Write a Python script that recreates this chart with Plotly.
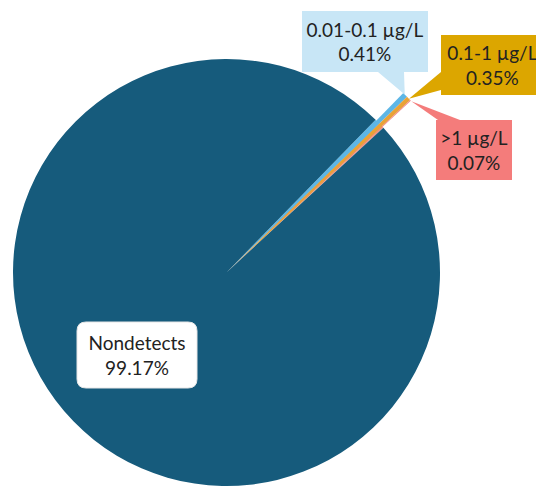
import math
import plotly.graph_objects as go

# Detection categories and their share of samples (%)
labels = ["0.01-0.1 µg/L", "0.1-1 µg/L", ">1 µg/L", "Nondetects"]
shares = [0.41, 0.35, 0.07, 99.17]
slice_colors = ["#5db6e6", "#e9a236", "#f28585", "#165b7c"]
box_colors = ["#c8e6f6", "#dca600", "#f47c7b", "#ffffff"]

W, H = 536, 486
FONT = dict(family="Lato, 'Noto Sans', sans-serif", size=19, color="#222222")

# pie geometry (pixels)
cx, cy, r = 226.5, 272.5, 213.5
reach = 1.18 * r          # how far the small slices stick out
shift = 45.0               # offset of the overlay pie along the small slices
rotation = 44.3            # start angle of the first slice, clockwise from 12 o'clock

def px(x):
    return x / W

def py(y):
    return 1 - y / H

total = sum(shares)
small_total = sum(shares[:3])

def mid_angle(i):
    start = rotation + 360.0 * sum(shares[:i]) / total
    return math.radians(start + 180.0 * shares[i] / total)

def polar_px(ox, oy, rad, ang):
    return ox + rad * math.sin(ang), oy - rad * math.cos(ang)

fig = go.Figure()

# main pie
fig.add_trace(go.Pie(
    labels=labels, values=shares, sort=False, direction="clockwise",
    rotation=rotation, textinfo="none", hoverinfo="skip",
    marker=dict(colors=slice_colors, line=dict(width=0)),
    domain=dict(x=[px(cx - r), px(cx + r)], y=[py(cy + r), py(cy - r)]),
    showlegend=False,
))

# overlay pie: only the small slices, extended beyond the main disc
phi = math.radians(rotation + 180.0 * small_total / total)
ox, oy = polar_px(cx, cy, shift, phi)
R = reach - shift
overlay_colors = slice_colors[:3] + ["rgba(0,0,0,0)"]
fig.add_trace(go.Pie(
    labels=labels, values=shares, sort=False, direction="clockwise",
    rotation=rotation, textinfo="none", hoverinfo="skip",
    marker=dict(colors=overlay_colors, line=dict(width=0)),
    domain=dict(x=[px(ox - R), px(ox + R)], y=[py(oy + R), py(oy - R)]),
    showlegend=False,
))

# label boxes: center x, center y, width, height (pixels)
boxes = [
    (365, 42, 126, 61),
    (492.5, 65, 103, 60),
    (474, 150, 76, 60),
    (137, 355, 120, 66),
]
# callout base points on each box edge (pixels)
bases = [
    [(378, 72), (404, 72)],
    [(441, 72), (441, 90)],
    [(438, 120), (460, 120)],
]

shapes = []
for i in range(3):
    tx, ty = polar_px(cx, cy, reach, mid_angle(i))
    (ax, ay), (bx, by) = bases[i]
    path = (f"M{px(ax)},{py(ay)} L{px(bx)},{py(by)} "
            f"L{px(tx)},{py(ty)} Z")
    shapes.append(dict(type="path", xref="paper", yref="paper", path=path,
                       fillcolor=box_colors[i], line=dict(width=0),
                       layer="above"))

# rounded white box behind the Nondetects label
bx, by, bw, bh = boxes[3]
x0, x1 = bx - bw / 2, bx + bw / 2
y0, y1 = by - bh / 2, by + bh / 2
k = 9
pts = [
    ("M", (x0 + k, y0)), ("L", (x1 - k, y0)), ("Q", (x1, y0), (x1, y0 + k)),
    ("L", (x1, y1 - k)), ("Q", (x1, y1), (x1 - k, y1)),
    ("L", (x0 + k, y1)), ("Q", (x0, y1), (x0, y1 - k)),
    ("L", (x0, y0 + k)), ("Q", (x0, y0), (x0 + k, y0)),
]
segs = []
for cmd, *ps in pts:
    segs.append(cmd + " ".join(f"{px(a)},{py(b)}" for a, b in ps))
shapes.append(dict(type="path", xref="paper", yref="paper",
                   path=" ".join(segs) + " Z",
                   fillcolor="#ffffff", line=dict(color="#e6e6e6", width=1),
                   layer="above"))

annotations = []
for i, (bx, by, bw, bh) in enumerate(boxes):
    annotations.append(dict(
        x=px(bx), y=py(by), xref="paper", yref="paper",
        xanchor="center", yanchor="middle",
        text=f"{labels[i]}<br>{shares[i]:.2f}%",
        showarrow=False, align="center", valign="middle",
        width=bw, height=bh,
        bgcolor=box_colors[i] if i < 3 else "rgba(0,0,0,0)",
        borderpad=0, borderwidth=0, font=FONT,
    ))

fig.update_layout(
    width=W, height=H,
    margin=dict(l=0, r=0, t=0, b=0),
    paper_bgcolor="white", plot_bgcolor="white",
    showlegend=False,
    shapes=shapes, annotations=annotations,
)

fig.write_html("out.html", config={"displayModeBar": False})
